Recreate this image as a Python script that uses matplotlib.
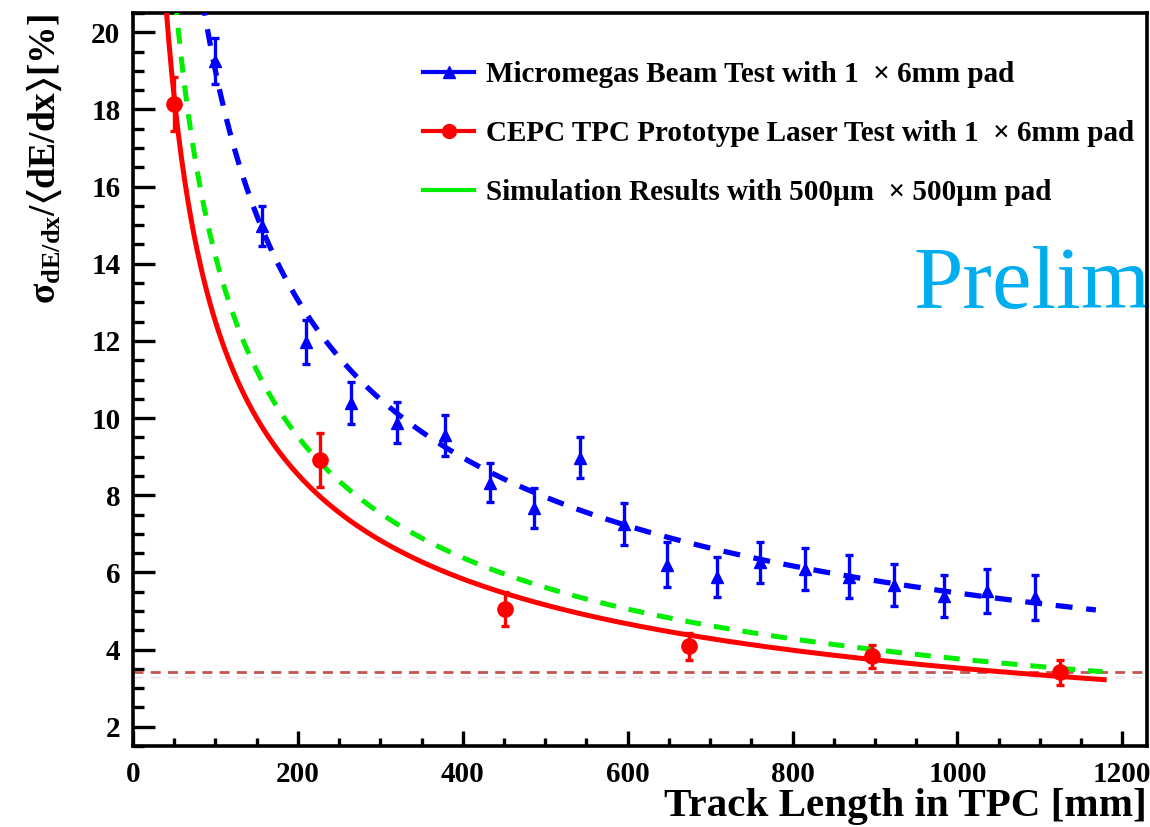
import numpy as np
import matplotlib
matplotlib.use("Agg")
import matplotlib.pyplot as plt
from matplotlib.lines import Line2D
from matplotlib.ticker import MultipleLocator
import matplotlib.patheffects as pe

# Micromegas beam test, 1 x 6 mm pads
beam_x = [99, 156, 210, 264, 320, 378, 433, 487, 542, 595, 648, 708, 760, 815, 869, 923, 984, 1036, 1094]
beam_y = [19.25, 14.98, 11.97, 10.39, 9.88, 9.55, 8.33, 7.66, 8.97, 7.26, 6.20, 5.88, 6.26, 6.08, 5.89, 5.68, 5.39, 5.52, 5.35]
beam_err = [0.60, 0.52, 0.56, 0.54, 0.53, 0.52, 0.50, 0.52, 0.53, 0.55, 0.58, 0.52, 0.53, 0.54, 0.56, 0.55, 0.54, 0.57, 0.58]

# CEPC TPC prototype laser test, 1 x 6 mm pads
laser_x = [50, 227, 451, 675, 897, 1124]
laser_y = [18.14, 8.91, 5.05, 4.08, 3.83, 3.41]
laser_err = [0.70, 0.70, 0.45, 0.36, 0.30, 0.32]

# Power-law fits  sigma = A * (L / 100 mm)^(-b)
beam_fit = (19.0, 0.541)
laser_fit = (12.5, 0.550)
sim_fit = (14.2, 0.577)
fit_xmax = {"beam": 1168, "laser": 1178, "sim": 1176}

# Reference resolution level
ref_level = 3.42

labels = [
    "Micromegas Beam Test with 1  \u00d7 6mm pad",
    "CEPC TPC Prototype Laser Test with 1  \u00d7 6mm pad",
    "Simulation Results with 500\u00b5m  \u00d7 500\u00b5m pad",
]

SERIF = ["Liberation Serif", "DejaVu Serif"]
plt.rcParams["font.family"] = SERIF
plt.rcParams["font.weight"] = "bold"
plt.rcParams["mathtext.fontset"] = "custom"
plt.rcParams["mathtext.rm"] = "Liberation Serif:bold"
plt.rcParams["mathtext.bf"] = "Liberation Serif:bold"
plt.rcParams["mathtext.it"] = "Liberation Serif:bold"

W, H = 1150, 827
fig = plt.figure(figsize=(W / 100, H / 100), dpi=100)
ax = fig.add_axes([133 / W, 1 - 746 / H, (1147 - 133) / W, (746 - 13) / H])

ax.set_xlim(0, 1230)
ax.set_ylim(1.5, 20.5)


def power_law(x, params):
    a, b = params
    return a * (np.asarray(x) / 100.0) ** (-b)


xs = np.linspace(30, fit_xmax["laser"], 600)
ax.plot(xs, power_law(xs, laser_fit), color="#ff0000", lw=3.6, zorder=3)
xs = np.linspace(30, fit_xmax["sim"], 600)
ax.plot(xs, power_law(xs, sim_fit), color="#00ee00", lw=3.6, dashes=(3.2, 2.6), zorder=3)
xs = np.linspace(30, fit_xmax["beam"], 600)
ax.plot(xs, power_law(xs, beam_fit), color="#0000ff", lw=3.8, dashes=(3.2, 2.6), zorder=3)

ax.errorbar(beam_x, beam_y, yerr=beam_err, fmt="^", color="#0000ff", ms=8,
            elinewidth=2.4, capsize=3, capthick=2.4, zorder=4)
ax.errorbar(laser_x, laser_y, yerr=laser_err, fmt="o", color="#ff0000", ms=11,
            elinewidth=2.4, capsize=3, capthick=2.4, zorder=4)

ax.axhline(ref_level, color="#c45454", lw=2.0, dashes=(3.6, 2.6), zorder=2,
           path_effects=[pe.SimpleLineShadow(offset=(0, -4), shadow_color="#aaaaaa", alpha=0.22),
                         pe.Normal()])

# Frame and ticks
for side in ["left", "bottom", "top", "right"]:
    ax.spines[side].set_linewidth(2.6)
ax.xaxis.set_major_locator(MultipleLocator(200))
ax.xaxis.set_minor_locator(MultipleLocator(50))
ax.yaxis.set_major_locator(MultipleLocator(2))
ax.yaxis.set_minor_locator(MultipleLocator(0.5))
ax.tick_params(axis="both", which="both", direction="in", top=False, right=False, width=2.4)
ax.tick_params(axis="y", which="major", length=16, pad=9, labelsize=21)
ax.tick_params(axis="y", which="minor", length=8)
ax.tick_params(axis="x", which="major", length=11, pad=11, labelsize=21)
ax.tick_params(axis="x", which="minor", length=6)
for lab in ax.get_xticklabels() + ax.get_yticklabels():
    lab.set_fontweight("bold")

fig.text(1147 / W, 1 - 816 / H, "Track Length in TPC [mm]", ha="right", va="baseline",
         fontsize=29.6, fontweight="bold")
fig.text(45 / W, 1 - 14 / H,
         r"$\mathregular{\sigma_{dE/dx}/\langle dE/dx\rangle [\%]}$",
         rotation=90, ha="center", va="top", fontsize=27)

handles = [
    Line2D([], [], color="#0000ff", lw=3, marker="^", ms=8),
    Line2D([], [], color="#ff0000", lw=3, marker="o", ms=10),
    Line2D([], [], color="#00ee00", lw=3),
]
leg = ax.legend(handles, labels, loc="upper left", bbox_to_anchor=(423 / W, 1 - 61 / H),
                bbox_transform=fig.transFigure, frameon=False,
                handlelength=1.75, handletextpad=0.42, labelspacing=1.1,
                borderpad=0, borderaxespad=0, prop={"weight": "bold", "size": 21})

ax.text(913 / W, 1 - 308 / H, "Preliminary", transform=fig.transFigure, fontsize=64,
        fontweight="normal", color="#00aeef", va="baseline", ha="left",
        clip_on=False, zorder=2)

fig.savefig("out.png", dpi=100)
